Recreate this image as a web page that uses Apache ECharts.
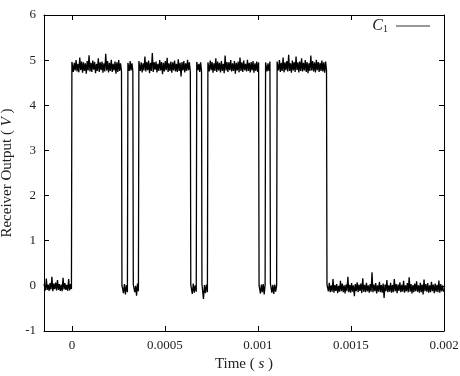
<!DOCTYPE html>
<html lang="en">
<head>
    <meta charset="UTF-8">
    <title>Receiver Output</title>
</head>
<body style="margin: 0">
<div id="container" style="height: 376px; width: 460px;"></div>
<script type="text/javascript" src="https://cdn.jsdelivr.net/npm/echarts@6.0.0/dist/echarts.min.js"></script>
<script type="text/javascript">
    // switching instants (s), first and last are the plot edges
    const edges = [-0.00015, 0, 0.000269, 0.000301, 0.00033, 0.00036, 0.000639, 0.000671,
        0.000699, 0.000731, 0.001006, 0.001041, 0.001067, 0.001103, 0.001371, 0.002];
    // mean level of each segment (V)
    const levels = [-0.02, 4.86, -0.04, 4.86, -0.04, 4.86, -0.04, 4.86,
        -0.04, 4.86, -0.04, 4.86, -0.04, 4.86, -0.05];
    // noise, in hundredths of a volt, one list per segment
    const noise = [
        [6, -8, 18, -7, 5, -9, 8, -6, 22, -10, 7, -5, 9, -8, 15, -7, 6, -9, 5, -10, 20, -6, 8, -7, 4, -9, 17, -8, 6, -5],
        [10, -12, 8, -9, 14, -11, 6, -13, 20, -8, 11, -14, 9, -10, 7, -16, 12, -9, 25, -11, 8, -12, 13, -7, 10, -15, 6,
            -10, 18, -12, 9, -8, 11, -14, 7, -11, 28, -9, 12, -13, 8, -10, 15, -12, 6, -9, 11, -16, 9, -12, 14, -10, 7, -11],
        [5, -12, 8, -15, 6, -10],
        [8, -10, 12, -9, 7, -11],
        [7, -10, 4, -18, 9, -8],
        [12, -10, 9, -13, 7, -9, 22, -11, 10, -8, 13, -15, 8, -10, 30, -12, 9, -7, 11, -13, 6, -10, 14, -9, 10, -17, 8,
            -11, 12, -8, 19, -12, 7, -10, 11, -14, 9, -9, 13, -11, 6, -12, 16, -10, 8, -22, 10, -9, 12, -13, 7, -10, 15, -8, 9, -12],
        [6, -14, 9, -11, 5, -9],
        [10, -8, 6, -12, 9, -10],
        [8, -25, 6, -12, 7, -10],
        [9, -11, 13, -8, 10, -14, 7, -10, 18, -12, 11, -9, 8, -13, 12, -10, 6, -15, 24, -9, 10, -12, 9, -8, 14, -11, 7,
            -10, 12, -16, 8, -9, 11, -13, 20, -10, 9, -12, 13, -8, 6, -11, 15, -10, 8, -13, 10, -9, 12, -14, 7, -10, 11, -12, 9],
        [5, -13, 7, -10, 8, -15, 6],
        [9, -11, 7, -10, 11],
        [9, -11, 6, -14, 7, -9, 5],
        [11, -9, 14, -12, 8, -10, 20, -13, 9, -8, 12, -11, 26, -10, 7, -14, 13, -9, 10, -12, 22, -8, 9, -13, 11, -10, 18,
            -11, 8, -9, 14, -12, 10, -15, 7, -10, 24, -9, 12, -11, 9, -13, 15, -8, 10, -12, 8, -10, 13, -11, 9, -14, 11, -9],
        [8, -7, 12, -9, 6, -8, 20, -10, 7, -6, 9, -11, 5, -8, 16, -7, 10, -9, 6, -12, 8, -7, 25, -9, 7, -10, 11, -8, 6,
            -18, 9, -7, 13, -9, 8, -6, 10, -11, 22, -8, 7, -9, 12, -7, 6, -10, 9, -8, 35, -9, 8, -7, 11, -12, 6, -8, 14, -9,
            7, -10, 10, -22, 8, -7, 18, -9, 6, -8, 12, -10, 7, -9, 20, -7, 9, -11, 8, -6, 13, -9, 7, -8, 16, -10, 6, -7, 11,
            -9, 24, -8, 9, -12, 7, -9, 10, -7, 15, -8, 6, -10, 12, -9, 8, -14, 19, -7, 9, -8, 11, -10, 6, -9, 14, -7, 8,
            -11, 10, -8, 7, -9, 17, -10, 9, -7, 6, -8]
    ];
    const xTicks = [0, 0.0005, 0.001, 0.0015, 0.002];
    const xTickLabels = ['0', '0.0005', '0.001', '0.0015', '0.002'];

    // build the trace: samples spread evenly over each segment, vertical steps at the edges
    const trace = [];
    for (let i = 0; i < levels.length; i++) {
        const a = edges[i], b = edges[i + 1], n = noise[i];
        const dt = (b - a) / n.length;
        trace.push([a, levels[i] + n[0] / 100]);
        for (let k = 0; k < n.length; k++) {
            trace.push([a + (k + 0.5) * dt, levels[i] + n[k] / 100]);
        }
        trace.push([b, levels[i] + n[n.length - 1] / 100]);
    }

    const font = '"Liberation Serif", "DejaVu Serif", serif';
    const dom = document.getElementById('container');
    const myChart = echarts.init(dom, null, {renderer: 'canvas'});

    const tick = {show: true, inside: true, length: 5, lineStyle: {color: '#000', width: 1}};
    const line = {show: true, onZero: false, lineStyle: {color: '#000', width: 1}};
    const nameStyle = {
        fontFamily: font, fontSize: 15, color: '#222',
        rich: {i: {fontFamily: font, fontStyle: 'italic', fontSize: 15, color: '#222'}}
    };

    const option = {
        animation: false,
        backgroundColor: '#fff',
        textStyle: {fontFamily: font},
        grid: {left: 44, right: 16, top: 15, bottom: 45, containLabel: false, outerBoundsMode: 'none'},
        legend: {
            show: true,
            right: 30,
            top: 18,
            padding: 0,
            align: 'right',
            icon: 'rect',
            itemWidth: 34,
            itemHeight: 1,
            itemStyle: {color: '#333'},
            formatter: function () {
                return '{c|C}{s|1}';
            },
            textStyle: {
                color: '#222',
                rich: {
                    c: {fontFamily: font, fontStyle: 'italic', fontSize: 16, color: '#222'},
                    s: {fontFamily: font, fontSize: 10, color: '#222', padding: [7, 3, 0, 0]}
                }
            }
        },
        xAxis: [
            {
                type: 'value',
                min: -0.00015,
                max: 0.002,
                name: 'Time ( {i|s} )',
                nameLocation: 'middle',
                nameGap: 21,
                nameTextStyle: nameStyle,
                axisLine: line,
                axisTick: Object.assign({customValues: xTicks}, tick),
                axisLabel: {
                    customValues: xTicks,
                    margin: 8,
                    fontSize: 13,
                    color: '#222',
                    fontFamily: font,
                    formatter: function (v) {
                        const i = xTicks.findIndex(function (t) { return Math.abs(t - v) < 1e-9; });
                        return i >= 0 ? xTickLabels[i] : '';
                    }
                },
                splitLine: {show: false}
            },
            {
                type: 'value',
                position: 'top',
                min: -0.00015,
                max: 0.002,
                axisLine: line,
                axisTick: Object.assign({customValues: xTicks}, tick),
                axisLabel: {show: false},
                splitLine: {show: false}
            }
        ],
        yAxis: [
            {
                type: 'value',
                min: -1,
                max: 6,
                interval: 1,
                name: 'Receiver Output ( {i|V} )',
                nameLocation: 'middle',
                nameGap: 28,
                nameTextStyle: nameStyle,
                axisLine: line,
                axisTick: tick,
                axisLabel: {margin: 8, fontSize: 13, color: '#222', fontFamily: font},
                splitLine: {show: false}
            },
            {
                type: 'value',
                position: 'right',
                min: -1,
                max: 6,
                interval: 1,
                axisLine: line,
                axisTick: tick,
                axisLabel: {show: false},
                splitLine: {show: false}
            }
        ],
        series: [
            {
                name: 'C1',
                type: 'line',
                data: trace,
                showSymbol: false,
                symbol: 'none',
                sampling: null,
                lineStyle: {color: '#000', width: 1.3},
                itemStyle: {color: '#000'}
            }
        ]
    };
    myChart.setOption(option);
</script>
</body>
</html>
